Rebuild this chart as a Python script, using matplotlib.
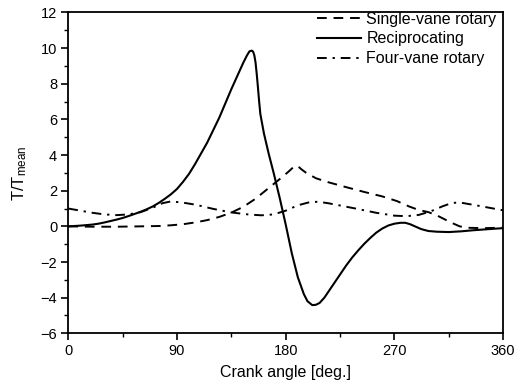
import matplotlib
matplotlib.use("Agg")
import matplotlib.pyplot as plt

plt.rcParams['font.family'] = ['Liberation Sans', 'DejaVu Sans']
plt.rcParams['mathtext.default'] = 'regular'

# Reciprocating (solid)
recip_deg = [0, 5, 10, 15, 20, 25, 30, 35, 40, 45, 50, 55, 60, 65, 70, 75, 80, 85, 90, 95, 100, 105, 110, 115,
             120, 125, 130, 135, 140, 145, 148, 150, 152, 153, 154, 155, 156, 157, 158, 159, 162, 166, 170, 175,
             180, 185, 190, 195, 198, 202, 205, 208, 212, 216, 220, 225, 230, 235, 240, 245, 250, 255, 260, 265,
             270, 275, 279, 283, 287, 292, 298, 305, 315, 325, 335, 345, 360]
recip_val = [0, 0.02, 0.04, 0.07, 0.1, 0.15, 0.22, 0.3, 0.38, 0.47, 0.58, 0.7, 0.82, 0.96, 1.12, 1.32, 1.55, 1.8,
             2.1, 2.5, 2.95, 3.5, 4.1, 4.7, 5.4, 6.1, 6.9, 7.7, 8.45, 9.2, 9.6, 9.82, 9.86, 9.8, 9.6, 9.2, 8.55,
             7.8, 7.0, 6.3, 5.2, 4.05, 3.0, 1.6, 0.1, -1.5, -2.85, -3.8, -4.2, -4.42, -4.4, -4.3, -4.0, -3.6, -3.2,
             -2.7, -2.2, -1.75, -1.35, -0.98, -0.65, -0.35, -0.12, 0.05, 0.15, 0.2, 0.2, 0.12, 0.0, -0.15, -0.26,
             -0.3, -0.32, -0.28, -0.22, -0.17, -0.1]

# Single-vane rotary (dashed)
single_deg = [0, 20, 40, 60, 75, 85, 95, 105, 115, 125, 135, 145, 155, 165, 175, 182, 186, 188, 190, 193, 197,
              205, 215, 230, 245, 260, 272, 282, 290, 298, 305, 312, 318, 324, 330, 345, 360]
single_val = [0, -0.02, -0.02, 0, 0.02, 0.06, 0.12, 0.22, 0.35, 0.53, 0.77, 1.1, 1.55, 2.1, 2.65, 3.05, 3.3, 3.4,
              3.38, 3.2, 3.0, 2.7, 2.48, 2.2, 1.93, 1.68, 1.42, 1.12, 0.92, 0.8, 0.62, 0.38, 0.18, 0.0, -0.08,
              -0.1, -0.07]

# Four-vane rotary (dash-dot)
four_deg = [0, 10, 20, 30, 40, 50, 60, 70, 78, 85, 95, 105, 120, 135, 150, 160, 170, 180, 190, 200, 207,
            215, 225, 240, 255, 270, 280, 290, 300, 310, 318, 325, 340, 360]
four_val = [1.0, 0.88, 0.76, 0.67, 0.63, 0.67, 0.8, 1.05, 1.3, 1.4, 1.33, 1.22, 0.98, 0.78, 0.66, 0.62, 0.67,
            0.88, 1.18, 1.36, 1.38, 1.3, 1.17, 0.97, 0.76, 0.6, 0.57, 0.64, 0.84, 1.13, 1.32, 1.33, 1.15, 0.9]

x_ticks = [0, 90, 180, 270, 360]
y_ticks = [-6, -4, -2, 0, 2, 4, 6, 8, 10, 12]

fig = plt.figure(figsize=(5.15, 3.90), dpi=100)
ax = fig.add_axes([0.1326, 0.1454, 0.977 - 0.1326, 0.968 - 0.1454])

ax.plot(single_deg, single_val, color='black', lw=1.4, linestyle=(0, (5, 3.5)), label='Single-vane rotary')
ax.plot(recip_deg, recip_val, color='black', lw=1.5, linestyle='-', label='Reciprocating')
ax.plot(four_deg, four_val, color='black', lw=1.4, linestyle=(0, (5, 3, 1.2, 3)), label='Four-vane rotary')

ax.set_xlim(0, 360)
ax.set_ylim(-6, 12)
ax.set_xticks(x_ticks)
ax.set_yticks(y_ticks)
ax.set_xticks([45, 135, 225, 315], minor=True)
ax.set_yticks([-5, -3, -1, 1, 3, 5, 7, 9, 11], minor=True)
ax.tick_params(axis='both', which='major', direction='out', length=5, width=1.2, labelsize=10.5, pad=3)
ax.tick_params(axis='both', which='minor', direction='out', length=3, width=1.0)
for s in ax.spines.values():
    s.set_linewidth(1.3)

ax.set_xlabel('Crank angle [deg.]', fontsize=11.5, labelpad=5)
ax.set_ylabel(r'T/T$_{mean}$', fontsize=12, labelpad=8)

leg = ax.legend(loc='upper right', frameon=False, fontsize=11.5, handlelength=2.8,
                handletextpad=0.3, labelspacing=0.3, borderaxespad=0.0, borderpad=0.15,
                bbox_to_anchor=(0.99, 1.01))

fig.savefig('out.png', dpi=100)
